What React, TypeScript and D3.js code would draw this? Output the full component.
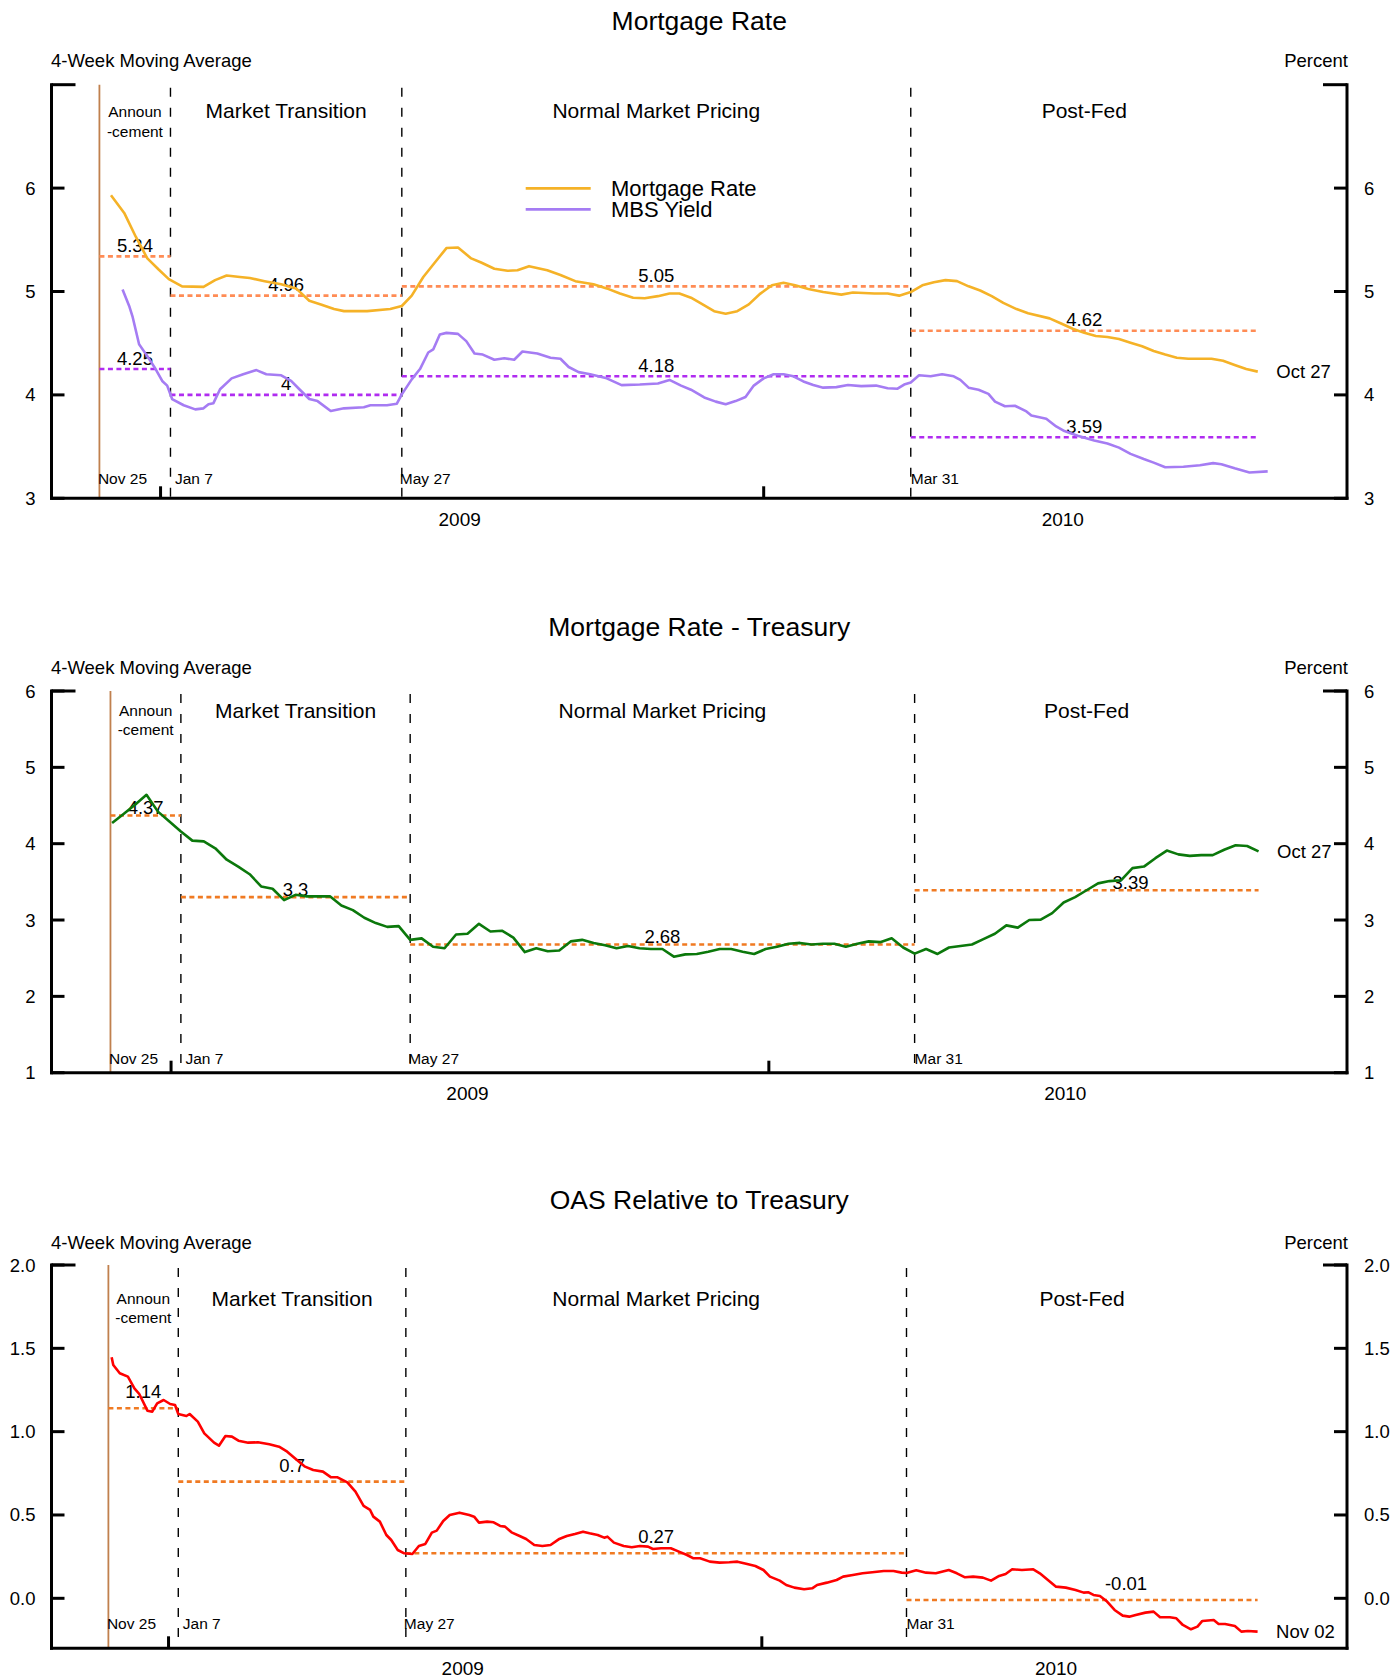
import React from 'react';
import * as d3 from 'd3';

const FONT = "'Liberation Sans', Arial, Helvetica, sans-serif";

// ---------- shared annotations ----------
const EVENT_DATES = ['2008-11-25', '2009-01-07', '2009-05-27', '2010-03-31'];
const EVENT_LABELS = ['Nov 25', 'Jan 7', 'May 27', 'Mar 31'];
const REGIME_LABELS = ['Market Transition', 'Normal Market Pricing', 'Post-Fed'];
const ANNOUNCEMENT_LABEL = ['Announ', '-cement'];
const YEAR_LABELS = ['2009', '2010'];

// ---------- panel 1: Mortgage Rate ----------
const MORTGAGE_RATE: [string, number][] = [
  ['2008-12-02', 5.93], ['2008-12-10', 5.76], ['2008-12-17', 5.53], ['2008-12-24', 5.32], ['2008-12-31', 5.21],
  ['2009-01-06', 5.12], ['2009-01-14', 5.05], ['2009-01-27', 5.045], ['2009-02-03', 5.11], ['2009-02-10', 5.155],
  ['2009-02-18', 5.14], ['2009-02-24', 5.13], ['2009-03-05', 5.1], ['2009-03-15', 5.07], ['2009-03-24', 5.03],
  ['2009-04-01', 4.91], ['2009-04-08', 4.875], ['2009-04-16', 4.83], ['2009-04-22', 4.81], ['2009-05-06', 4.81],
  ['2009-05-20', 4.83], ['2009-05-27', 4.86], ['2009-06-02', 4.96], ['2009-06-09', 5.14], ['2009-06-16', 5.28],
  ['2009-06-23', 5.42], ['2009-06-30', 5.425], ['2009-07-08', 5.32], ['2009-07-14', 5.28], ['2009-07-22', 5.22],
  ['2009-07-30', 5.2], ['2009-08-05', 5.205], ['2009-08-12', 5.245], ['2009-08-23', 5.205], ['2009-08-31', 5.16],
  ['2009-09-09', 5.1], ['2009-09-20', 5.07], ['2009-09-28', 5.03], ['2009-10-06', 4.98], ['2009-10-14', 4.94],
  ['2009-10-21', 4.935], ['2009-10-29', 4.955], ['2009-11-05', 4.98], ['2009-11-11', 4.98], ['2009-11-18', 4.94],
  ['2009-11-24', 4.885], ['2009-12-02', 4.81], ['2009-12-09', 4.785], ['2009-12-16', 4.81], ['2009-12-23', 4.875],
  ['2009-12-30', 4.98], ['2010-01-06', 5.06], ['2010-01-13', 5.085], ['2010-01-20', 5.06], ['2010-01-28', 5.025],
  ['2010-02-06', 4.995], ['2010-02-17', 4.97], ['2010-02-24', 4.99], ['2010-03-09', 4.98], ['2010-03-17', 4.98],
  ['2010-03-24', 4.96], ['2010-03-31', 4.995], ['2010-04-07', 5.06], ['2010-04-14', 5.09], ['2010-04-21', 5.11],
  ['2010-04-28', 5.1], ['2010-05-05', 5.05], ['2010-05-12', 5.01], ['2010-05-19', 4.955], ['2010-05-26', 4.89],
  ['2010-06-03', 4.83], ['2010-06-10', 4.79], ['2010-06-23', 4.74], ['2010-06-30', 4.69], ['2010-07-07', 4.64],
  ['2010-07-14', 4.6], ['2010-07-21', 4.57], ['2010-07-28', 4.56], ['2010-08-04', 4.54], ['2010-08-11', 4.505],
  ['2010-08-18', 4.47], ['2010-08-25', 4.425], ['2010-09-01', 4.39], ['2010-09-08', 4.36], ['2010-09-15', 4.35],
  ['2010-09-29', 4.35], ['2010-10-06', 4.33], ['2010-10-13', 4.29], ['2010-10-20', 4.25], ['2010-10-27', 4.225],
];

const MBS_YIELD: [string, number][] = [
  ['2008-12-09', 5.02], ['2008-12-13', 4.86], ['2008-12-15', 4.76], ['2008-12-19', 4.49], ['2008-12-24', 4.375],
  ['2008-12-29', 4.25], ['2009-01-02', 4.135], ['2009-01-05', 4.09], ['2009-01-08', 3.96], ['2009-01-15', 3.9],
  ['2009-01-22', 3.86], ['2009-01-27', 3.87], ['2009-01-30', 3.91], ['2009-02-02', 3.92], ['2009-02-06', 4.055],
  ['2009-02-13', 4.16], ['2009-02-20', 4.2], ['2009-02-28', 4.24], ['2009-03-06', 4.2], ['2009-03-15', 4.19],
  ['2009-03-21', 4.135], ['2009-03-26', 4.055], ['2009-04-01', 3.96], ['2009-04-06', 3.94], ['2009-04-14', 3.845],
  ['2009-04-22', 3.87], ['2009-05-04', 3.88], ['2009-05-08', 3.9], ['2009-05-18', 3.9], ['2009-05-24', 3.915],
  ['2009-05-27', 4.005], ['2009-06-02', 4.15], ['2009-06-07', 4.25], ['2009-06-12', 4.41], ['2009-06-15', 4.44],
  ['2009-06-19', 4.585], ['2009-06-23', 4.6], ['2009-06-30', 4.59], ['2009-07-05', 4.52], ['2009-07-10', 4.4],
  ['2009-07-15', 4.39], ['2009-07-22', 4.34], ['2009-07-28', 4.355], ['2009-08-03', 4.34], ['2009-08-08', 4.42],
  ['2009-08-17', 4.4], ['2009-08-25', 4.36], ['2009-08-31', 4.35], ['2009-09-05', 4.27], ['2009-09-11', 4.22],
  ['2009-09-18', 4.2], ['2009-09-28', 4.16], ['2009-10-07', 4.095], ['2009-10-18', 4.1], ['2009-10-29', 4.11],
  ['2009-11-05', 4.145], ['2009-11-12', 4.09], ['2009-11-18', 4.05], ['2009-11-26', 3.975], ['2009-12-03', 3.935],
  ['2009-12-09', 3.91], ['2009-12-15', 3.94], ['2009-12-21', 3.98], ['2009-12-26', 4.09], ['2010-01-01', 4.16],
  ['2010-01-07', 4.2], ['2010-01-13', 4.2], ['2010-01-19', 4.18], ['2010-01-25', 4.13], ['2010-01-31', 4.095],
  ['2010-02-06', 4.07], ['2010-02-14', 4.075], ['2010-02-21', 4.095], ['2010-03-01', 4.085], ['2010-03-10', 4.09],
  ['2010-03-17', 4.065], ['2010-03-23', 4.06], ['2010-03-27', 4.1], ['2010-03-31', 4.12], ['2010-04-05', 4.19],
  ['2010-04-12', 4.18], ['2010-04-19', 4.2], ['2010-04-26', 4.18], ['2010-04-30', 4.145], ['2010-05-05', 4.07],
  ['2010-05-11', 4.05], ['2010-05-17', 4.01], ['2010-05-21', 3.935], ['2010-05-27', 3.89], ['2010-06-02', 3.895],
  ['2010-06-09', 3.84], ['2010-06-12', 3.8], ['2010-06-21', 3.77], ['2010-06-27', 3.695], ['2010-07-02', 3.65],
  ['2010-07-10', 3.605], ['2010-07-20', 3.56], ['2010-07-28', 3.53], ['2010-08-04', 3.49], ['2010-08-11', 3.43],
  ['2010-08-19', 3.38], ['2010-08-25', 3.345], ['2010-09-01', 3.3], ['2010-09-12', 3.305], ['2010-09-22', 3.32],
  ['2010-09-30', 3.34], ['2010-10-05', 3.33], ['2010-10-13', 3.29], ['2010-10-22', 3.25], ['2010-11-02', 3.26],
];

const MORTGAGE_MEANS = [5.34, 4.96, 5.05, 4.62];
const MBS_MEANS = [4.25, 4, 4.18, 3.59];

// ---------- panel 2: Mortgage Rate - Treasury (weekly) ----------
const SPREAD_START = '2008-11-26';
const SPREAD_WEEKLY = [
  4.27, 4.39, 4.51, 4.64, 4.42, 4.29, 4.16, 4.04, 4.03, 3.94,
  3.79, 3.7, 3.6, 3.44, 3.41, 3.26, 3.33, 3.31, 3.31, 3.31,
  3.19, 3.13, 3.03, 2.96, 2.91, 2.92, 2.74, 2.76, 2.65, 2.63,
  2.81, 2.82, 2.95, 2.85, 2.86, 2.77, 2.58, 2.63, 2.59, 2.6,
  2.72, 2.74, 2.7, 2.67, 2.63, 2.66, 2.63, 2.62, 2.62, 2.52,
  2.55, 2.555, 2.585, 2.62, 2.62, 2.585, 2.555, 2.62, 2.65, 2.69,
  2.7, 2.68, 2.69, 2.69, 2.65, 2.69, 2.72, 2.71, 2.76, 2.64,
  2.56, 2.62, 2.555, 2.64, 2.66, 2.68, 2.75, 2.82, 2.93, 2.9,
  3.0, 3.005, 3.09, 3.23, 3.3, 3.39, 3.48, 3.51, 3.52, 3.68,
  3.7, 3.81, 3.91, 3.86, 3.84, 3.85, 3.85, 3.92, 3.98, 3.97,
  3.9,
];
const SPREAD_MEANS = [4.37, 3.3, 2.68, 3.39];

// ---------- panel 3: OAS Relative to Treasury ----------
const OAS: [string, number][] = [
  ['2008-11-27', 1.446], ['2008-11-28', 1.4], ['2008-12-02', 1.35], ['2008-12-07', 1.33], ['2008-12-11', 1.26],
  ['2008-12-14', 1.226], ['2008-12-19', 1.126], ['2008-12-22', 1.12], ['2008-12-25', 1.17], ['2008-12-29', 1.19],
  ['2009-01-02', 1.166], ['2009-01-05', 1.16], ['2009-01-07', 1.106], ['2009-01-12', 1.094], ['2009-01-14', 1.106],
  ['2009-01-19', 1.06], ['2009-01-23', 0.99], ['2009-01-29', 0.934], ['2009-02-01', 0.916], ['2009-02-05', 0.974],
  ['2009-02-09', 0.97], ['2009-02-13', 0.946], ['2009-02-19', 0.934], ['2009-02-25', 0.936], ['2009-03-04', 0.924],
  ['2009-03-10', 0.91], ['2009-03-15', 0.88], ['2009-03-21', 0.83], ['2009-03-26', 0.79], ['2009-03-31', 0.77],
  ['2009-04-06', 0.76], ['2009-04-11', 0.726], ['2009-04-15', 0.726], ['2009-04-21', 0.696], ['2009-04-26', 0.64],
  ['2009-05-01', 0.554], ['2009-05-05', 0.53], ['2009-05-07', 0.49], ['2009-05-11', 0.46], ['2009-05-15', 0.38],
  ['2009-05-18', 0.35], ['2009-05-22', 0.29], ['2009-05-26', 0.27], ['2009-05-31', 0.266], ['2009-06-04', 0.314],
  ['2009-06-08', 0.326], ['2009-06-12', 0.394], ['2009-06-15', 0.406], ['2009-06-19', 0.464], ['2009-06-23', 0.5],
  ['2009-06-29', 0.514], ['2009-07-05', 0.5], ['2009-07-08', 0.49], ['2009-07-11', 0.454], ['2009-07-16', 0.46],
  ['2009-07-20', 0.456], ['2009-07-24', 0.434], ['2009-07-27', 0.43], ['2009-07-31', 0.396], ['2009-08-05', 0.374],
  ['2009-08-09', 0.356], ['2009-08-14', 0.32], ['2009-08-19', 0.314], ['2009-08-24', 0.32], ['2009-08-29', 0.354],
  ['2009-09-03', 0.374], ['2009-09-08', 0.386], ['2009-09-13', 0.4], ['2009-09-17', 0.39], ['2009-09-22', 0.38],
  ['2009-09-26', 0.364], ['2009-09-28', 0.37], ['2009-10-02', 0.334], ['2009-10-08', 0.314], ['2009-10-13', 0.306],
  ['2009-10-18', 0.314], ['2009-10-23', 0.31], ['2009-10-26', 0.296], ['2009-10-31', 0.3], ['2009-11-06', 0.3],
  ['2009-11-11', 0.28], ['2009-11-16', 0.26], ['2009-11-20', 0.24], ['2009-11-24', 0.24], ['2009-11-30', 0.22],
  ['2009-12-06', 0.214], ['2009-12-12', 0.216], ['2009-12-17', 0.22], ['2009-12-23', 0.206], ['2009-12-28', 0.194],
  ['2010-01-02', 0.17], ['2010-01-06', 0.13], ['2010-01-12', 0.106], ['2010-01-16', 0.08], ['2010-01-21', 0.064],
  ['2010-01-27', 0.054], ['2010-02-01', 0.06], ['2010-02-04', 0.08], ['2010-02-10', 0.094], ['2010-02-16', 0.11],
  ['2010-02-20', 0.13], ['2010-02-26', 0.14], ['2010-03-04', 0.15], ['2010-03-10', 0.156], ['2010-03-17', 0.164],
  ['2010-03-23', 0.164], ['2010-03-28', 0.154], ['2010-03-31', 0.152], ['2010-04-06', 0.168], ['2010-04-12', 0.154],
  ['2010-04-18', 0.15], ['2010-04-26', 0.17], ['2010-05-01', 0.15], ['2010-05-06', 0.126], ['2010-05-11', 0.13],
  ['2010-05-17', 0.124], ['2010-05-22', 0.106], ['2010-05-27', 0.134], ['2010-05-31', 0.146], ['2010-06-04', 0.174],
  ['2010-06-10', 0.17], ['2010-06-17', 0.174], ['2010-06-21', 0.15], ['2010-06-26', 0.11], ['2010-07-01', 0.07],
  ['2010-07-07', 0.064], ['2010-07-13', 0.05], ['2010-07-18', 0.034], ['2010-07-21', 0.036], ['2010-07-24', 0.02],
  ['2010-07-28', 0.014], ['2010-08-01', -0.016], ['2010-08-06', -0.07], ['2010-08-11', -0.104], ['2010-08-15', -0.11],
  ['2010-08-19', -0.1], ['2010-08-25', -0.086], ['2010-08-30', -0.08], ['2010-09-03', -0.114], ['2010-09-09', -0.114],
  ['2010-09-13', -0.12], ['2010-09-17', -0.16], ['2010-09-22', -0.186], ['2010-09-26', -0.17], ['2010-09-29', -0.136],
  ['2010-10-06', -0.13], ['2010-10-09', -0.154], ['2010-10-13', -0.154], ['2010-10-19', -0.166], ['2010-10-23', -0.2],
  ['2010-10-27', -0.196], ['2010-11-02', -0.2],
];
const OAS_MEANS = [1.14, 0.7, 0.27, -0.01];

// ---------- layout ----------
const W = 1394;
const H = 1678;
const X0 = 51.5;
const X1 = 1347;
const XMID = (X0 + X1) / 2;

const parse = d3.timeParse('%Y-%m-%d') as (s: string) => Date;

type Pt = [Date, number];
type SeriesSpec = { data: Pt[]; color: string; width: number };
type MeanSpec = { values: number[]; color: string };
type PanelSpec = {
  title: string;
  xDomain: [string, string];
  yDomain: [number, number];
  yTop: number;
  yBottom: number;
  ticks: number[];
  fmt: (v: number) => string;
  titleY: number;
  subY: number;
  regionY: number;
  announY: [number, number];
  dateY: number;
  yearY: number;
  meanGap: number;
  meanLabelDx: number[];
  endDate: string;
  endLabel: string;
  series: SeriesSpec[];
  means: MeanSpec[];
  legend?: { label: string; color: string }[];
};

const toPts = (arr: [string, number][]): Pt[] => arr.map(([d, v]) => [parse(d), v]);

const PANELS: PanelSpec[] = [
  {
    title: 'Mortgage Rate',
    xDomain: ['2008-10-27', '2010-12-20'],
    yDomain: [3, 7],
    yTop: 84.7,
    yBottom: 498.3,
    ticks: [3, 4, 5, 6],
    fmt: (v) => String(v),
    titleY: 30,
    subY: 67,
    regionY: 118,
    announY: [116.5, 136.5],
    dateY: 484,
    yearY: 526,
    meanGap: 4.5,
    meanLabelDx: [0, 0, 0, 0],
    endDate: '2010-10-27',
    endLabel: 'Oct 27',
    series: [
      { data: toPts(MORTGAGE_RATE), color: '#F5B227', width: 2.6 },
      { data: toPts(MBS_YIELD), color: '#A57CF3', width: 2.6 },
    ],
    means: [
      { values: MORTGAGE_MEANS, color: '#FF8C55' },
      { values: MBS_MEANS, color: '#B02CF0' },
    ],
    legend: [
      { label: 'Mortgage Rate', color: '#F5B227' },
      { label: 'MBS Yield', color: '#A57CF3' },
    ],
  },
  {
    title: 'Mortgage Rate - Treasury',
    xDomain: ['2008-10-20', '2010-12-20'],
    yDomain: [1, 6],
    yTop: 691,
    yBottom: 1072.7,
    ticks: [1, 2, 3, 4, 5, 6],
    fmt: (v) => String(v),
    titleY: 636,
    subY: 674,
    regionY: 718.3,
    announY: [716, 735],
    dateY: 1064.3,
    yearY: 1100,
    meanGap: 1,
    meanLabelDx: [0, 0, 0, 44],
    endDate: '2010-10-27',
    endLabel: 'Oct 27',
    series: [
      {
        data: SPREAD_WEEKLY.map((v, i) => [d3.timeDay.offset(parse(SPREAD_START), 7 * i), v] as Pt),
        color: '#0B780B',
        width: 2.6,
      },
    ],
    means: [{ values: SPREAD_MEANS, color: '#F07A22' }],
  },
  {
    title: 'OAS Relative to Treasury',
    xDomain: ['2008-10-21', '2010-12-27'],
    yDomain: [-0.3, 2.0],
    yTop: 1265,
    yBottom: 1648.3,
    ticks: [0, 0.5, 1, 1.5, 2],
    fmt: d3.format('.1f'),
    titleY: 1209,
    subY: 1249,
    regionY: 1306,
    announY: [1304.3, 1323.3],
    dateY: 1629.3,
    yearY: 1675,
    meanGap: 10,
    meanLabelDx: [0, 0, 0, 44],
    endDate: '2010-11-02',
    endLabel: 'Nov 02',
    series: [{ data: toPts(OAS), color: '#FF0000', width: 2.6 }],
    means: [{ values: OAS_MEANS, color: '#F07A22' }],
  },
];

const DATE_LABEL_DX = [-1.5, 4.5, -2, 0];

function Panel({ p }: { p: PanelSpec }) {
  const x = d3.scaleTime().domain([parse(p.xDomain[0]), parse(p.xDomain[1])]).range([X0, X1]);
  const y = d3.scaleLinear().domain(p.yDomain).range([p.yBottom, p.yTop]);
  const events = EVENT_DATES.map(parse);
  const end = parse(p.endDate);
  const bounds = [...events, end];
  const line = d3
    .line<Pt>()
    .x((d) => x(d[0]))
    .y((d) => y(d[1]));
  const years = d3.timeYear.range(x.domain()[0], x.domain()[1]);
  const first = p.series[0].data;
  const last = first[first.length - 1];

  return (
    <g>
      {/* titles */}
      <text x={XMID} y={p.titleY} fontSize={26.5} textAnchor="middle">
        {p.title}
      </text>
      <text x={X0 - 0.5} y={p.subY} fontSize={18.5}>
        4-Week Moving Average
      </text>
      <text x={X1 + 1} y={p.subY} fontSize={18.5} textAnchor="end">
        Percent
      </text>

      {/* event lines */}
      {events.map((d, i) =>
        i === 0 ? (
          <line key={i} x1={x(d)} x2={x(d)} y1={p.yBottom} y2={p.yTop} stroke="#C0804E" strokeWidth={1.8} />
        ) : (
          <line
            key={i}
            x1={x(d)}
            x2={x(d)}
            y1={p.yTop + 3}
            y2={p.yBottom}
            stroke="#000"
            strokeWidth={1.4}
            strokeDasharray="9,11"
          />
        )
      )}

      {/* regime labels */}
      <text x={(x(events[0]) + x(events[1])) / 2} y={p.announY[0]} fontSize={15.5} textAnchor="middle">
        {ANNOUNCEMENT_LABEL[0]}
      </text>
      <text x={(x(events[0]) + x(events[1])) / 2} y={p.announY[1]} fontSize={15.5} textAnchor="middle">
        {ANNOUNCEMENT_LABEL[1]}
      </text>
      {REGIME_LABELS.map((lab, i) => (
        <text key={lab} x={(x(bounds[i + 1]) + x(bounds[i + 2])) / 2} y={p.regionY} fontSize={21} textAnchor="middle">
          {lab}
        </text>
      ))}

      {/* event date labels */}
      {events.map((d, i) => (
        <text key={i} x={x(d) + DATE_LABEL_DX[i]} y={p.dateY} fontSize={15.5}>
          {EVENT_LABELS[i]}
        </text>
      ))}

      {/* mean lines */}
      {p.means.map((m, mi) =>
        m.values.map((v, i) => {
          const xa = x(bounds[i]);
          const xb = x(bounds[i + 1]);
          return (
            <g key={`${mi}-${i}`}>
              <line x1={xa} x2={xb} y1={y(v)} y2={y(v)} stroke={m.color} strokeWidth={2.6} strokeDasharray="5,3.5" />
              <text x={(xa + xb) / 2 + p.meanLabelDx[i]} y={y(v) - p.meanGap} fontSize={18.5} textAnchor="middle">
                {String(v)}
              </text>
            </g>
          );
        })
      )}

      {/* series */}
      {p.series.map((s, i) => (
        <path key={i} d={line(s.data) || ''} fill="none" stroke={s.color} strokeWidth={s.width} strokeLinejoin="round" />
      ))}

      {/* end label */}
      <text x={x(last[0]) + 18.5} y={y(last[1]) + 6.5} fontSize={18.5}>
        {p.endLabel}
      </text>

      {/* legend */}
      {p.legend &&
        p.legend.map((l, i) => (
          <g key={l.label}>
            <line x1={525.7} x2={590.7} y1={188.3 + i * 21} y2={188.3 + i * 21} stroke={l.color} strokeWidth={2.8} />
            <text x={611} y={196 + i * 20.7} fontSize={22}>
              {l.label}
            </text>
          </g>
        ))}

      {/* axes */}
      <line x1={X0} x2={X0} y1={p.yTop} y2={p.yBottom} stroke="#000" strokeWidth={3} strokeLinecap="square" />
      <line x1={X1} x2={X1} y1={p.yTop} y2={p.yBottom} stroke="#000" strokeWidth={3} strokeLinecap="square" />
      <line x1={X0} x2={X1} y1={p.yBottom} y2={p.yBottom} stroke="#000" strokeWidth={3} strokeLinecap="square" />
      <line x1={X0} x2={X0 + 24} y1={p.yTop} y2={p.yTop} stroke="#000" strokeWidth={3} />
      <line x1={X1 - 24} x2={X1} y1={p.yTop} y2={p.yTop} stroke="#000" strokeWidth={3} />
      {p.ticks.map((t) => (
        <g key={t}>
          <line x1={X0} x2={X0 + 13} y1={y(t)} y2={y(t)} stroke="#000" strokeWidth={3} />
          <line x1={X1 - 13} x2={X1} y1={y(t)} y2={y(t)} stroke="#000" strokeWidth={3} />
          <text x={35.5} y={y(t) + 6.5} fontSize={18.5} textAnchor="end">
            {p.fmt(t)}
          </text>
          <text x={1364} y={y(t) + 6.5} fontSize={18.5}>
            {p.fmt(t)}
          </text>
        </g>
      ))}
      {years.map((d, i) => (
        <g key={i}>
          <line x1={x(d)} x2={x(d)} y1={p.yBottom} y2={p.yBottom - 12} stroke="#000" strokeWidth={3} />
          <text x={x(d3.timeMonth.offset(d, 6))} y={p.yearY} fontSize={19} textAnchor="middle">
            {YEAR_LABELS[i]}
          </text>
        </g>
      ))}
    </g>
  );
}

export default function App() {
  return (
    <svg
      width={W}
      height={H}
      viewBox={`0 0 ${W} ${H}`}
      style={{ position: 'absolute', left: 0, top: 0, background: '#fff' }}
      fontFamily={FONT}
      fill="#000"
    >
      <rect x={0} y={0} width={W} height={H} fill="#fff" />
      {PANELS.map((p) => (
        <Panel key={p.title} p={p} />
      ))}
    </svg>
  );
}
